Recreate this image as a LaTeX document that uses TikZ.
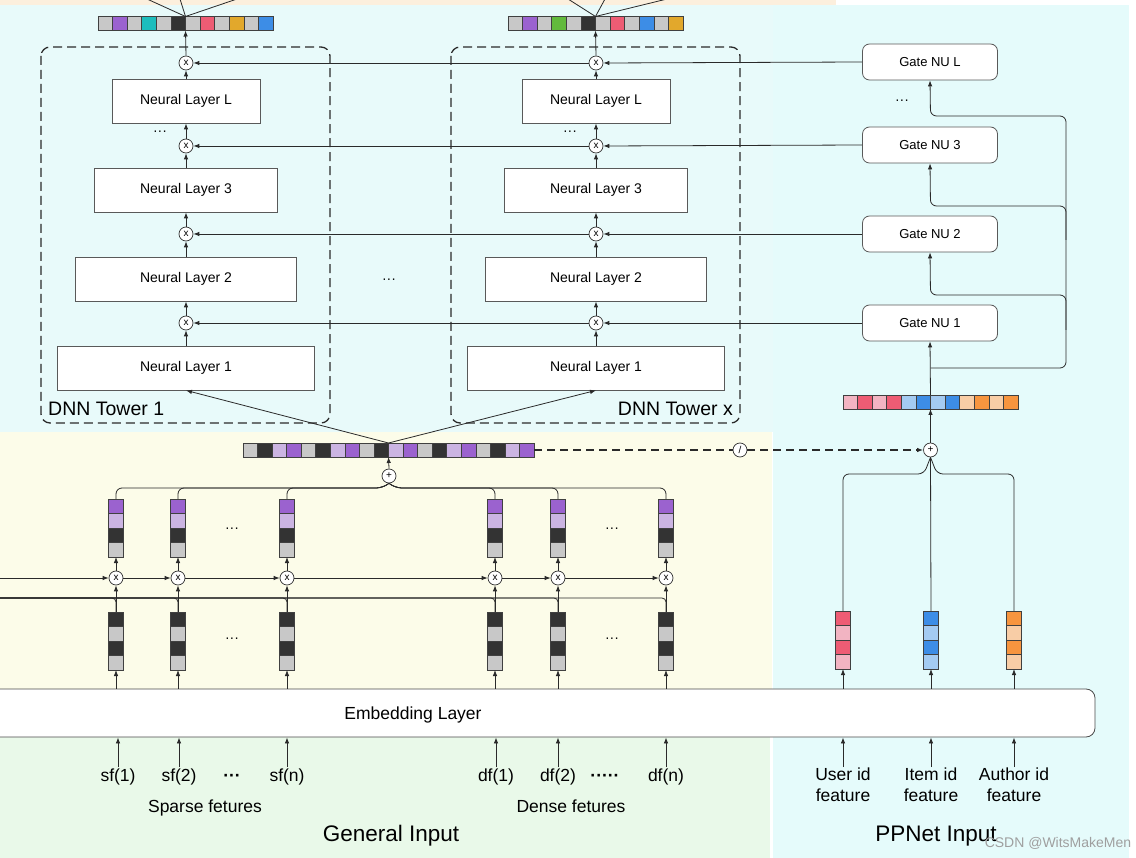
\documentclass[tikz,border=0pt]{standalone}
\usepackage{fontspec}
\setmainfont{Liberation Sans}
\usetikzlibrary{arrows.meta,calc}
\definecolor{cgray}{HTML}{C8C8C8}
\definecolor{cdark}{HTML}{333333}
\definecolor{cpur}{HTML}{9B62CF}
\definecolor{clpur}{HTML}{CBB4E2}
\definecolor{cteal}{HTML}{1CBDBD}
\definecolor{cred}{HTML}{EE5C74}
\definecolor{cgold}{HTML}{E2A82C}
\definecolor{cblue}{HTML}{3D8DE6}
\definecolor{cgreen}{HTML}{62BA3C}
\definecolor{clpink}{HTML}{F2B4C2}
\definecolor{clblue}{HTML}{A4CBF2}
\definecolor{corange}{HTML}{F7953F}
\definecolor{clpeach}{HTML}{F8CDA6}
\definecolor{bgcyan}{HTML}{E8FAFA}
\definecolor{bgcyanb}{HTML}{E5FBFB}
\definecolor{bgyellow}{HTML}{FCFCE9}
\definecolor{bggreen}{HTML}{E9F9E9}
\definecolor{bgpeach}{HTML}{FCEFDD}
\definecolor{ink}{HTML}{2A2A2A}
\newcommand{\hvec}[6]{%
  \node[inner sep=0, outer sep=0, minimum width=#4*#5, minimum height=14] (#1) at (#2,#3) {};
  \foreach \cl [count=\ii from 0] in {#6} {
    \draw[cellb, fill=\cl] ($(#1.south west)+(\ii*#5,0)$) rectangle ++(#5,-14);
  }
}
\newcommand{\vvec}[4]{%
  \node[inner sep=0, outer sep=0, minimum width=15, minimum height=58] (#1) at (#2,#3+29) {};
  \foreach \cl [count=\ii from 0] in {#4} {
    \draw[cellb, fill=\cl] ($(#1.north west)+(0,\ii*14.5)$) rectangle ++(15,14.5);
  }
}
\tikzset{
  cellb/.style={draw=black!75, line width=0.6},
  layer/.style={draw=black!65, fill=white, line width=0.8, minimum height=44, inner sep=0, font=\fontsize{14}{16}\selectfont},
  gate/.style={draw=black!65, fill=white, line width=0.8, rounded corners=7, minimum width=135, minimum height=36, inner sep=0, font=\fontsize{13}{15}\selectfont},
  op/.style={circle, draw=black!80, fill=white, line width=0.7, minimum size=14, inner sep=0, font=\fontsize{10}{10}\selectfont},
  arr/.style={draw=ink, line width=0.8, -{Latex[length=6pt,width=4.5pt]}},
  line/.style={draw=ink, line width=0.8},
  tower/.style={draw=ink, line width=1.3, dash pattern=on 9pt off 5pt, rounded corners=9},
  lbl/.style={font=\fontsize{17.5}{21}\selectfont, inner sep=1, text height=13, text depth=4},
  big/.style={font=\fontsize{22.5}{26}\selectfont, inner sep=0},
  dots/.style={font=\fontsize{14}{14}\selectfont, inner sep=0}
}
\begin{document}
\begin{tikzpicture}[x=1pt,y=-1pt]
\useasboundingbox (0,0) rectangle (1136,858);
\clip (0,0) rectangle (1136,858);
% backgrounds
\fill[white] (0,0) rectangle (1136,858);
\fill[bgpeach] (0,0) rectangle (836,5);
\fill[bgcyan] (0,5) rectangle (773,432);
\fill[bgcyanb] (773,5) rectangle (1129,858);
\fill[bgyellow] (0,432) rectangle (772,737);
\fill[bggreen] (0,737) rectangle (770,858);

% towers
\draw[tower] (41,47) rectangle (330,423);
\draw[tower] (451,47) rectangle (740,423);
\node[font=\fontsize{19.5}{22}\selectfont, anchor=west, inner sep=0] (lt1) at (48,409) {DNN Tower 1};
\node[font=\fontsize{19.5}{22}\selectfont, anchor=east, inner sep=0] (ltx) at (733,409) {DNN Tower x};

% tower 1 layers
\node[layer, minimum width=148] (a4l) at (186,101) {Neural Layer L};
\node[layer, minimum width=183] (a3l) at (186,190) {Neural Layer 3};
\node[layer, minimum width=221] (a2l) at (186,279) {Neural Layer 2};
\node[layer, minimum width=257] (a1l) at (186,368) {Neural Layer 1};
\node[op] (a4) at (186,63) {x};
\node[op] (a3) at (186,146) {x};
\node[op] (a2) at (186,234) {x};
\node[op] (a1) at (186,323) {x};
% tower x layers
\node[layer, minimum width=148] (b4l) at (596,101) {Neural Layer L};
\node[layer, minimum width=183] (b3l) at (596,190) {Neural Layer 3};
\node[layer, minimum width=221] (b2l) at (596,279) {Neural Layer 2};
\node[layer, minimum width=257] (b1l) at (596,368) {Neural Layer 1};
\node[op] (b4) at (596,63) {x};
\node[op] (b3) at (596,146) {x};
\node[op] (b2) at (596,234) {x};
\node[op] (b1) at (596,323) {x};

\node[dots] (da) at (160,133) {···};
\node[dots] (db) at (570,133) {···};
\node[dots] (dm) at (389,281) {···};

% top output vectors
\hvec{tva}{185.5}{23.5}{12}{14.6}{cgray,cpur,cgray,cteal,cgray,cdark,cgray,cred,cgray,cgold,cgray,cblue}
\hvec{tvb}{595.5}{23.5}{12}{14.6}{cgray,cpur,cgray,cgreen,cgray,cdark,cgray,cred,cgray,cblue,cgray,cgold}
\coordinate (oa1) at (147,-1);
\coordinate (oa2) at (180,-1);
\coordinate (oa3) at (237,-1);
\coordinate (ob1) at (568,-1);
\coordinate (ob2) at (605,-1);
\coordinate (ob3) at (667,-1);
\foreach \o in {oa1,oa2,oa3} \draw[line] (tva.north) -- (\o);
\foreach \o in {ob1,ob2,ob3} \draw[line] (tvb.north) -- (\o);

% tower arrows
\foreach \t in {a,b} {
  \draw[arr] (\t1l.north) -- (\t1.south);
  \draw[arr] (\t1.north) -- (\t2l.south);
  \draw[arr] (\t2l.north) -- (\t2.south);
  \draw[arr] (\t2.north) -- (\t3l.south);
  \draw[arr] (\t3l.north) -- (\t3.south);
  \draw[arr] (\t3.north) -- (\t4l.south);
  \draw[arr] (\t4l.north) -- (\t4.south);
  \draw[arr] (\t4.north) -- (tv\t.south);
}

% gates
\node[gate] (g4) at (930,62) {Gate NU L};
\node[gate] (g3) at (930,145) {Gate NU 3};
\node[gate] (g2) at (930,234) {Gate NU 2};
\node[gate] (g1) at (930,323) {Gate NU 1};
\node[dots] (dg) at (902,102) {···};
\foreach \lv in {4,3,2,1} {
  \draw[arr] (g\lv.west) -- (b\lv.east);
  \draw[arr] (b\lv.west) -- (a\lv.east);
}

% PPNet vector and gate feeding
\hvec{ppv}{930.5}{402}{12}{14.6}{clpink,cred,clpink,cred,clblue,cblue,clblue,cblue,clpeach,corange,clpeach,corange}
\draw[arr] (ppv.north) -- (g1.south);
\coordinate (jn) at (930.5,368);
\coordinate (rt) at (1066,116);
\draw[arr, rounded corners=6] (jn) -| (rt) -- (930.5,116) -- (g4.south);
\draw[arr, rounded corners=6] (1066,330) -- (1066,295) -- (930.5,295) -- (g2.south);
\draw[arr, rounded corners=6] (1066,240) -- (1066,206) -- (930.5,206) -- (g3.south);

% general vector
\hvec{gv}{388.5}{450}{20}{14.55}{cgray,cdark,clpur,cpur,cgray,cdark,clpur,cpur,cgray,cdark,clpur,cpur,cgray,cdark,clpur,cpur,cgray,cdark,clpur,cpur}
\draw[arr] (gv.north) -- (a1l.south);
\draw[arr] (gv.north) -- (b1l.south);
\node[op] (gp) at (389,476) {+};
\draw[arr] (gp.north) -- (gv.south);

% PPNet plus
\node[op] (pp) at (930.5,450) {+};
\draw[arr] (pp.north) -- (ppv.south);
\node[op] (sl) at (740,450) {/};
\draw[line, line width=1.3, dash pattern=on 8pt off 5pt] (gv.east) -- (sl.west);
\draw[arr, line width=1.3, dash pattern=on 8pt off 5pt] (sl.east) -- (pp.west);

% embedding layer
\node[draw=black!70, fill=white, line width=0.8, rounded corners=9, minimum width=1125, minimum height=48, inner sep=0] (emb) at (532.5,713) {};
\node[lbl] (embt) at (413,715) {Embedding Layer};

% general embedding columns
\coordinate (lft1) at (-2,578);
\coordinate (lft2) at (-2,598);
\foreach \nm/\xx in {s1/116,s2/178,s3/287,d1/495,d2/558,d3/666} {
  \vvec{u\nm}{\xx}{499}{cpur,clpur,cdark,cgray}
  \vvec{l\nm}{\xx}{612}{cdark,cgray,cdark,cgray}
  \node[op] (m\nm) at (\xx,578) {x};
}
\foreach \nm in {s1,s2,s3,d1,d2,d3} {
  \draw[line, rounded corners=4] (lft2) -| (l\nm.north);
  \draw[arr] (l\nm.north) -- (m\nm.south);
  \draw[arr] (m\nm.north) -- (u\nm.south);
  \draw[arr] (l\nm.south |- emb.north) -- (l\nm.south);
}
\foreach \nm in {s1,s2,s3} \draw[line, rounded corners=6] (u\nm.north) |- (382,488) -- (gp.south);
\foreach \nm in {d1,d2,d3} \draw[line, rounded corners=6] (u\nm.north) |- (396,488) -- (gp.south);
\draw[arr] (lft1) -- (ms1.west);
\draw[arr] (ms1.east) -- (ms2.west);
\draw[arr] (ms2.east) -- (ms3.west);
\draw[arr] (ms3.east) -- (md1.west);
\draw[arr] (md1.east) -- (md2.west);
\draw[arr] (md2.east) -- (md3.west);
\node[dots] (du1) at (232,530) {···};
\node[dots] (dl1) at (232,640) {···};
\node[dots] (du2) at (612,530) {···};
\node[dots] (dl2) at (612,640) {···};

% PPNet columns
\vvec{cu}{843}{611}{cred,clpink,cred,clpink}
\vvec{ci}{931}{611}{cblue,clblue,cblue,clblue}
\vvec{ca}{1014}{611}{corange,clpeach,corange,clpeach}
\draw[line, rounded corners=6] (cu.north) |- (924,474) -- (pp.south);
\draw[line] (ci.north) -- (pp.south);
\draw[line, rounded corners=6] (ca.north) |- (937,474) -- (pp.south);
\foreach \c in {cu,ci,ca} \draw[arr] (\c.south |- emb.north) -- (\c.south);

% inputs
\node[lbl, anchor=north] (sf1) at (118,767) {sf(1)};
\node[lbl, anchor=north] (sf2) at (179,767) {sf(2)};
\node[lbl, anchor=north] (sfd) at (232,767) {\textbf{···}};
\node[lbl, anchor=north] (sfn) at (287,767) {sf(n)};
\node[lbl, anchor=north] (df1) at (496,767) {df(1)};
\node[lbl, anchor=north] (df2) at (558,767) {df(2)};
\node[lbl, anchor=north] (dfd) at (605,767) {\textbf{·····}};
\node[lbl, anchor=north] (dfn) at (666,767) {df(n)};
\node[lbl, anchor=north, align=center, text height=, text depth=, font=\fontsize{17.5}{21}\selectfont] (fu) at (843,767) {User id\\feature};
\node[lbl, anchor=north, align=center, text height=, text depth=, font=\fontsize{17.5}{21}\selectfont] (fi) at (931,767) {Item id\\feature};
\node[lbl, anchor=north, align=center, text height=, text depth=, font=\fontsize{17.5}{21}\selectfont] (fa) at (1014,767) {Author id\\feature};
\foreach \f in {sf1,sf2,sfn,df1,df2,dfn,fu,fi,fa} \draw[arr] (\f.north) -- (\f.north |- emb.south);
\node[lbl] (sft) at (205,808) {Sparse fetures};
\node[lbl] (dft) at (571,808) {Dense fetures};
\node[big] (gin) at (391,836) {General Input};
\node[big] (pin) at (936,836) {PPNet Input};

% watermark
\node[text=gray!75, font=\fontsize{14}{14}\selectfont, inner sep=0] (wm2) at (1058,843) {CSDN @WitsMakeMen};
\end{tikzpicture}
\end{document}
